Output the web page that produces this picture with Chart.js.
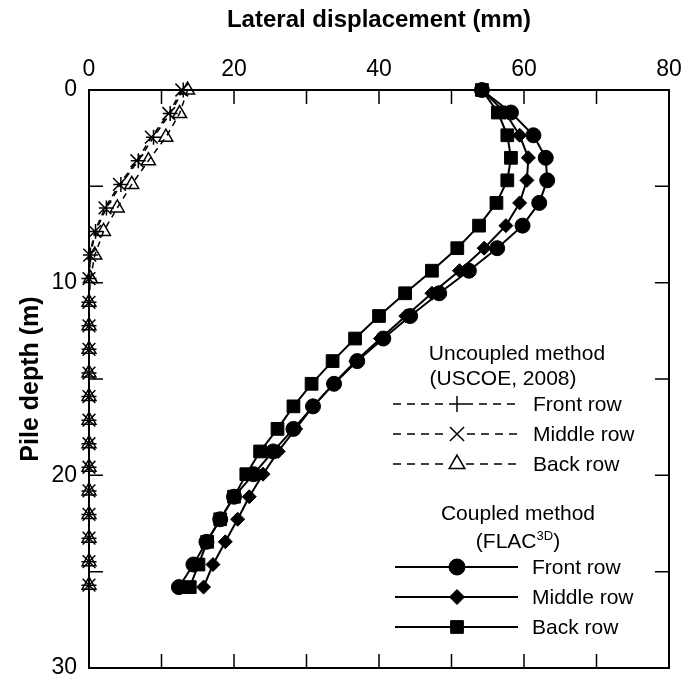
<!DOCTYPE html>
<html>
<head>
<meta charset="utf-8">
<title>Pile lateral displacement</title>
<script src="https://cdn.jsdelivr.net/npm/chart.js@4.4.1/dist/chart.umd.min.js"></script>
<style>
    html, body { margin: 0; padding: 0; background: #fff; }
    #wrap { width: 686px; height: 685px; position: relative; }
</style>
</head>
<body>
<div id="wrap"><canvas id="graficoPali"></canvas></div>
<script>
// profondità (m) dei nodi
const depthUncoupled = [0, 1.22, 2.45, 3.67, 4.9, 6.12, 7.34, 8.57, 9.79, 11.02, 12.24, 13.46, 14.69, 15.91, 17.14, 18.36, 19.58, 20.81, 22.03, 23.26, 24.48, 25.7];
const depthCoupled = [0, 1.17, 2.35, 3.52, 4.69, 5.86, 7.04, 8.21, 9.38, 10.55, 11.73, 12.9, 14.07, 15.25, 16.42, 17.59, 18.76, 19.94, 21.11, 22.28, 23.45, 24.63, 25.8];

// uncoupled method (USCOE, 2008) - spostamento laterale (mm)
const uncFront = [13.0, 11.2, 8.9, 6.8, 4.4, 2.4, 0.9, 0.2, 0, 0, 0, 0, 0, 0, 0, 0, 0, 0, 0, 0, 0, 0];
const uncMiddle = [12.8, 11.0, 8.6, 6.6, 4.2, 2.2, 0.8, 0.1, 0, 0, 0, 0, 0, 0, 0, 0, 0, 0, 0, 0, 0, 0];
const uncBack = [13.6, 12.5, 10.6, 8.2, 5.9, 3.9, 2.0, 0.8, 0.2, 0, 0, 0, 0, 0, 0, 0, 0, 0, 0, 0, 0, 0];

// coupled method (FLAC3D)
const cpFront = [54.2, 58.2, 61.3, 63.0, 63.2, 62.1, 59.8, 56.3, 52.4, 48.3, 44.3, 40.6, 37.0, 33.8, 30.9, 28.2, 25.4, 22.7, 20.0, 18.1, 16.2, 14.4, 12.4];
const cpMiddle = [54.2, 57.4, 59.4, 60.6, 60.4, 59.4, 57.5, 54.5, 51.1, 47.3, 43.7, 40.2, 36.8, 33.7, 30.9, 28.5, 26.1, 24.0, 22.1, 20.5, 18.8, 17.1, 15.8];
const cpBack = [54.2, 56.4, 57.7, 58.2, 57.7, 56.2, 53.8, 50.8, 47.3, 43.6, 40.0, 36.7, 33.6, 30.7, 28.2, 26.0, 23.6, 21.7, 20.0, 18.1, 16.3, 15.1, 13.9];

// assi
const xTicks = [0, 20, 40, 60, 80];
const yTicks = [0, 10, 20, 30];

document.addEventListener("DOMContentLoaded", function () {
    const FONT = "'Liberation Sans', Arial, sans-serif";

    function toPoints(values, depths) {
        return values.map((v, i) => ({ x: v, y: depths[i] }));
    }

    function uncoupledSet(label, values, style, radius) {
        return {
            label: label,
            data: toPoints(values, depthUncoupled),
            borderColor: "#000",
            backgroundColor: style === "triangle" ? "#fff" : "#000",
            borderWidth: 1.5,
            borderDash: [6, 5],
            pointStyle: style,
            pointRadius: radius,
            pointBorderWidth: 1.5,
            pointBorderColor: "#000",
            pointBackgroundColor: style === "triangle" ? "rgba(255,255,255,0)" : "#000",
            showLine: true,
            tension: 0,
            clip: false
        };
    }

    function coupledSet(label, values, style, radius) {
        return {
            label: label,
            data: toPoints(values, depthCoupled),
            borderColor: "#000",
            backgroundColor: "#000",
            borderWidth: 2,
            pointStyle: style,
            pointRadius: radius,
            pointBorderWidth: 1,
            pointBorderColor: "#000",
            pointBackgroundColor: "#000",
            showLine: true,
            tension: 0,
            clip: false
        };
    }

    // cornice, tacche interne e legenda disegnate a mano
    const framePlugin = {
        id: "framePlugin",
        afterDatasetsDraw(chart) {
            const ctx = chart.ctx;
            const a = chart.chartArea;
            const xs = chart.scales.x;
            const ys = chart.scales.y;
            ctx.save();
            ctx.strokeStyle = "#000";
            ctx.lineWidth = 2;
            ctx.strokeRect(a.left, a.top, a.right - a.left, a.bottom - a.top);

            ctx.lineWidth = 1.5;
            const len = 14;
            ctx.beginPath();
            for (let v = 10; v < 80; v += 10) {
                const px = xs.getPixelForValue(v);
                ctx.moveTo(px, a.top); ctx.lineTo(px, a.top + len);
                ctx.moveTo(px, a.bottom); ctx.lineTo(px, a.bottom - len);
            }
            for (let d = 5; d < 30; d += 5) {
                const py = ys.getPixelForValue(d);
                ctx.moveTo(a.left, py); ctx.lineTo(a.left + len, py);
                ctx.moveTo(a.right, py); ctx.lineTo(a.right - len, py);
            }
            ctx.stroke();
            ctx.restore();
            drawLegend(chart);
        }
    };

    function legendRow(ctx, y, x1, x2, xm, textX, label, dashed, style, radius, open) {
        ctx.save();
        ctx.strokeStyle = "#000";
        ctx.lineWidth = dashed ? 1.5 : 2;
        ctx.setLineDash(dashed ? [8, 6] : []);
        ctx.beginPath();
        if (dashed) {
            ctx.moveTo(x1, y); ctx.lineTo(xm - radius, y);
            ctx.moveTo(xm + radius, y); ctx.lineTo(x2, y);
        } else {
            ctx.moveTo(x1, y); ctx.lineTo(x2, y);
        }
        ctx.stroke();
        ctx.setLineDash([]);
        ctx.fillStyle = open ? "#fff" : "#000";
        ctx.lineWidth = dashed ? 1.5 : 1;
        Chart.helpers.drawPoint(ctx, { pointStyle: style, radius: radius, rotation: 0, borderWidth: ctx.lineWidth }, xm, y);
        ctx.fillStyle = "#000";
        ctx.font = "21px " + FONT;
        ctx.textAlign = "left";
        ctx.textBaseline = "middle";
        ctx.fillText(label, textX, y + 1);
        ctx.restore();
    }

    function drawLegend(chart) {
        const ctx = chart.ctx;
        ctx.save();
        ctx.fillStyle = "#000";
        ctx.font = "21px " + FONT;
        ctx.textAlign = "center";
        ctx.textBaseline = "middle";
        ctx.fillText("Uncoupled method", 517, 354);
        ctx.fillText("(USCOE, 2008)", 503, 379);
        ctx.fillText("Coupled method", 518, 514);
        // (FLAC^3D)
        const w1 = ctx.measureText("(FLAC").width;
        ctx.font = "13px " + FONT;
        const w2 = ctx.measureText("3D").width;
        ctx.font = "21px " + FONT;
        const w3 = ctx.measureText(")").width;
        let sx = 518 - (w1 + w2 + w3) / 2;
        ctx.textAlign = "left";
        ctx.fillText("(FLAC", sx, 542);
        ctx.font = "13px " + FONT;
        ctx.fillText("3D", sx + w1, 536);
        ctx.font = "21px " + FONT;
        ctx.fillText(")", sx + w1 + w2, 542);
        ctx.restore();

        legendRow(ctx, 404, 393, 520, 457, 533, "Front row", true, "cross", 8, false);
        legendRow(ctx, 434, 393, 520, 457, 533, "Middle row", true, "crossRot", 10, false);
        legendRow(ctx, 464, 393, 520, 457, 533, "Back row", true, "triangle", 9, true);
        legendRow(ctx, 567, 395, 518, 457, 532, "Front row", false, "circle", 8, false);
        legendRow(ctx, 597, 395, 518, 457, 532, "Middle row", false, "rectRot", 7.5, false);
        legendRow(ctx, 627, 395, 518, 457, 532, "Back row", false, "rect", 9, false);
    }

    const ctx = document.getElementById("graficoPali").getContext("2d");
    new Chart(ctx, {
        type: "scatter",
        data: {
            datasets: [
                uncoupledSet("Uncoupled - Front row", uncFront, "cross", 7.5),
                uncoupledSet("Uncoupled - Middle row", uncMiddle, "crossRot", 9),
                uncoupledSet("Uncoupled - Back row", uncBack, "triangle", 8),
                coupledSet("Coupled - Front row", cpFront, "circle", 7.5),
                coupledSet("Coupled - Middle row", cpMiddle, "rectRot", 7),
                coupledSet("Coupled - Back row", cpBack, "rect", 9)
            ]
        },
        options: {
            responsive: true,
            maintainAspectRatio: false,
            animation: false,
            layout: { padding: { left: 0, top: 0, right: 17, bottom: 17 } },
            plugins: {
                legend: { display: false },
                tooltip: { enabled: false }
            },
            scales: {
                x: {
                    type: "linear",
                    position: "top",
                    min: 0,
                    max: 80,
                    afterBuildTicks: (scale) => { scale.ticks = xTicks.map(v => ({ value: v })); },
                    afterFit: (scale) => {
                        scale.height = 90;
                        scale.paddingLeft = 0;
                        scale.paddingRight = 0;
                    },
                    grid: { display: false, drawTicks: false },
                    border: { display: false },
                    ticks: {
                        color: "#000",
                        padding: 7,
                        maxRotation: 0,
                        font: { family: FONT, size: 23 }
                    },
                    title: {
                        display: true,
                        text: "Lateral displacement (mm)",
                        color: "#000",
                        padding: { top: 6, bottom: 0 },
                        font: { family: FONT, size: 24, weight: "bold" }
                    }
                },
                y: {
                    type: "linear",
                    reverse: true,
                    min: 0,
                    max: 30,
                    afterBuildTicks: (scale) => { scale.ticks = yTicks.map(v => ({ value: v })); },
                    afterFit: (scale) => {
                        scale.width = 89;
                        scale.paddingTop = 0;
                        scale.paddingBottom = 0;
                    },
                    grid: { display: false, drawTicks: false },
                    border: { display: false },
                    ticks: {
                        color: "#000",
                        padding: 12,
                        font: { family: FONT, size: 23 }
                    },
                    title: {
                        display: true,
                        text: "Pile depth (m)",
                        color: "#000",
                        padding: { top: 16, bottom: 0 },
                        font: { family: FONT, size: 25, weight: "bold" }
                    }
                }
            }
        },
        plugins: [framePlugin]
    });
});
</script>
</body>
</html>
